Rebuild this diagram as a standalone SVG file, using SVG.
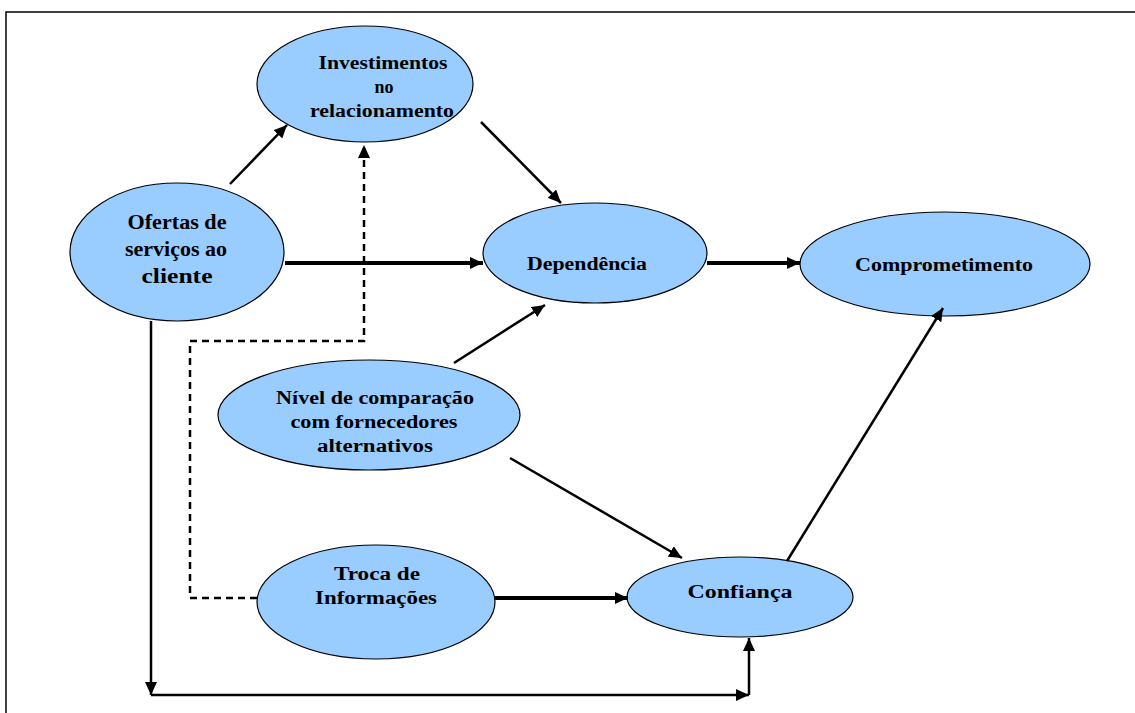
<svg xmlns="http://www.w3.org/2000/svg" width="1135" height="713" viewBox="0 0 1135 713">
<style>
.n{fill:#99ccff;stroke:#000;stroke-width:1.2}
.t{font-family:"Liberation Serif","Times New Roman",serif;font-weight:bold;font-size:18px;fill:#000;text-anchor:middle}
.c{stroke:#000;stroke-width:2.5;fill:none}
.k{stroke:#000;stroke-width:4;fill:none}
.d{stroke:#000;stroke-width:2.5;fill:none;stroke-dasharray:7,5}
</style>
<defs>
<marker id="a" markerUnits="userSpaceOnUse" markerWidth="14" markerHeight="12" refX="13" refY="6" orient="auto">
<path d="M0,0 L13,6 L0,12 z" fill="#000"/>
</marker>
</defs>
<rect width="1135" height="713" fill="#fff"/>
<path d="M6,713 V12 H1135" fill="none" stroke="#000" stroke-width="1.5"/>
<g id="investimentos">
<ellipse class="n" cx="365" cy="84" rx="108" ry="58"/>
<text class="t" x="383" y="69" textLength="129" lengthAdjust="spacingAndGlyphs">Investimentos</text>
<text class="t" x="384" y="93">no</text>
<text class="t" x="382" y="117" textLength="144" lengthAdjust="spacingAndGlyphs">relacionamento</text>
</g>
<g id="ofertas">
<ellipse class="n" cx="177" cy="252" rx="107" ry="69"/>
<text class="t" style="font-size:22px" x="177" y="229" textLength="99" lengthAdjust="spacingAndGlyphs">Ofertas de</text>
<text class="t" style="font-size:22px" x="176" y="256" textLength="102" lengthAdjust="spacingAndGlyphs">serviços ao</text>
<text class="t" style="font-size:22px" x="177" y="283" textLength="71" lengthAdjust="spacingAndGlyphs">cliente</text>
</g>
<g id="dependencia">
<ellipse class="n" cx="595" cy="253" rx="112" ry="50"/>
<text class="t" x="587" y="270" textLength="120" lengthAdjust="spacingAndGlyphs">Dependência</text>
</g>
<g id="comprometimento">
<ellipse class="n" cx="945" cy="264" rx="145" ry="52"/>
<text class="t" x="944" y="271" textLength="178" lengthAdjust="spacingAndGlyphs">Comprometimento</text>
</g>
<g id="nivel">
<ellipse class="n" cx="369" cy="415" rx="151" ry="55"/>
<text class="t" x="375" y="404" textLength="198" lengthAdjust="spacingAndGlyphs">Nível de comparação</text>
<text class="t" x="374" y="428" textLength="167" lengthAdjust="spacingAndGlyphs">com fornecedores</text>
<text class="t" x="375" y="452" textLength="116" lengthAdjust="spacingAndGlyphs">alternativos</text>
</g>
<g id="troca">
<ellipse class="n" cx="376" cy="602" rx="119" ry="57"/>
<text class="t" x="377" y="580" textLength="86" lengthAdjust="spacingAndGlyphs">Troca de</text>
<text class="t" x="376" y="604" textLength="122" lengthAdjust="spacingAndGlyphs">Informações</text>
</g>
<g id="confianca">
<ellipse class="n" cx="740" cy="597" rx="113" ry="40"/>
<text class="t" x="740" y="598" textLength="105" lengthAdjust="spacingAndGlyphs">Confiança</text>
</g>
<g id="connectors">
<path class="c" d="M230,184 L287,125" marker-end="url(#a)"/>
<path class="c" d="M481,122 L561,203" marker-end="url(#a)"/>
<path class="k" d="M285,263 L483,263" marker-end="url(#a)"/>
<path class="k" d="M707,263 L800,263" marker-end="url(#a)"/>
<path class="c" d="M454,363 L545,305" marker-end="url(#a)"/>
<path class="c" d="M510,458 L682,558" marker-end="url(#a)"/>
<path class="c" d="M787,561 L943,308" marker-end="url(#a)"/>
<path class="k" d="M495,598 L628,598" marker-end="url(#a)"/>
<path class="d" d="M257,598 H190 V341 H364 V145" marker-end="url(#a)"/>
<path class="c" d="M151,321 V695" marker-end="url(#a)"/>
<path class="c" d="M151,695 H749" marker-end="url(#a)"/>
<path class="c" d="M749,695 V638" marker-end="url(#a)"/>
</g>
</svg>
